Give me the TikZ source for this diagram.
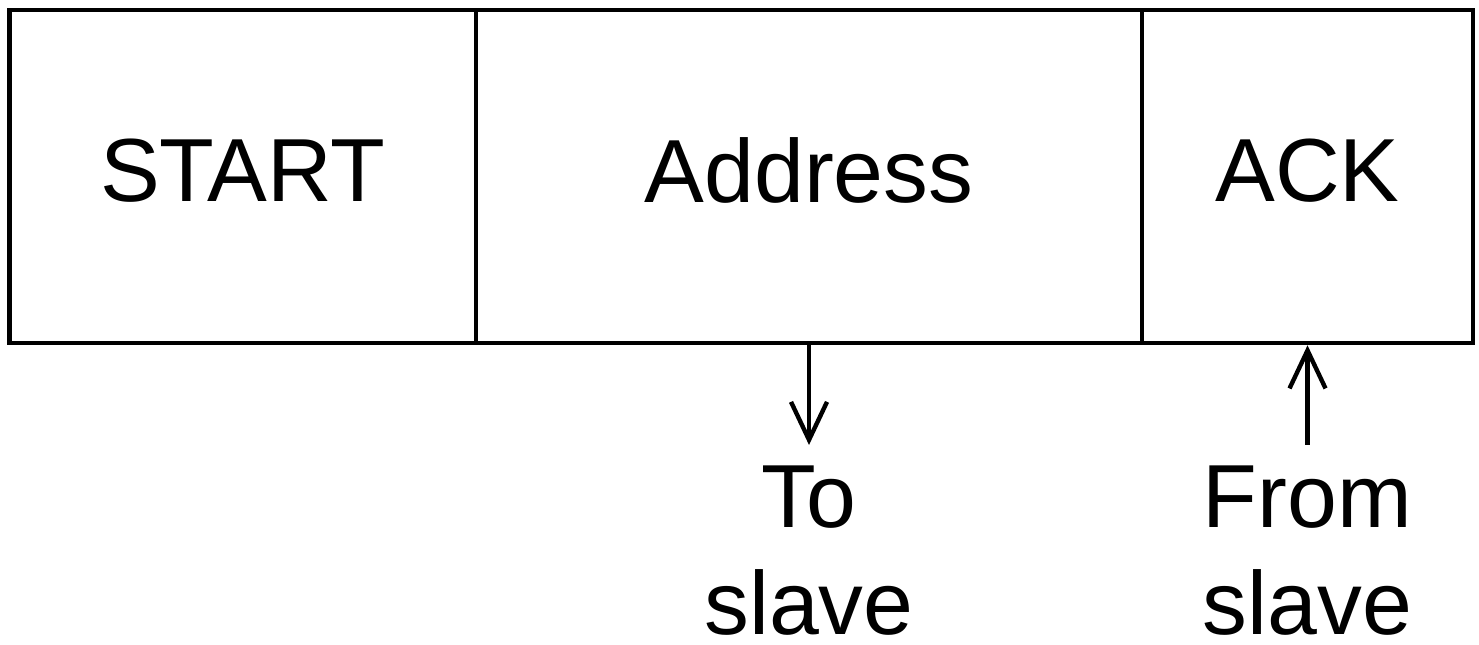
\documentclass[tikz,border=0pt]{standalone}
\usepackage{fontspec}
\setmainfont{Liberation Sans}
\usetikzlibrary{arrows.meta}

\begin{document}
\begin{tikzpicture}[
    field/.style={draw, line width=1.3pt, minimum height=3.33cm, inner sep=0pt,
      text depth=0.13cm, font=\fontsize{25.5}{31}\selectfont},
    lbl/.style={anchor=north, inner sep=0pt, align=center, font=\fontsize{25.5}{30.5}\selectfont},
    sig/.style={line width=1.25pt, -{Straight Barb[length=3.8mm,width=3.6mm]}}]
      \useasboundingbox (0,0) rectangle (14.79,-6.45);
      \node[field, minimum width=4.665cm] (start) at (2.4275,-1.765) {START};
      \node[field, minimum width=6.66cm]  (addr)  at (8.09,-1.765)   {Address};
      \node[field, minimum width=3.31cm]  (ack)   at (13.075,-1.765) {ACK};
      \coordinate (toend)   at (8.09,-4.45);
      \coordinate (fromend) at (13.075,-4.45);
      \draw[sig] (addr.south) -- (toend);
      \draw[sig] (fromend) -- (ack.south);
      \node[lbl] (tolbl)   at (8.09,-4.65)   {To\\slave};
      \node[lbl] (fromlbl) at (13.075,-4.65) {From\\slave};
    \end{tikzpicture}
\end{document}
